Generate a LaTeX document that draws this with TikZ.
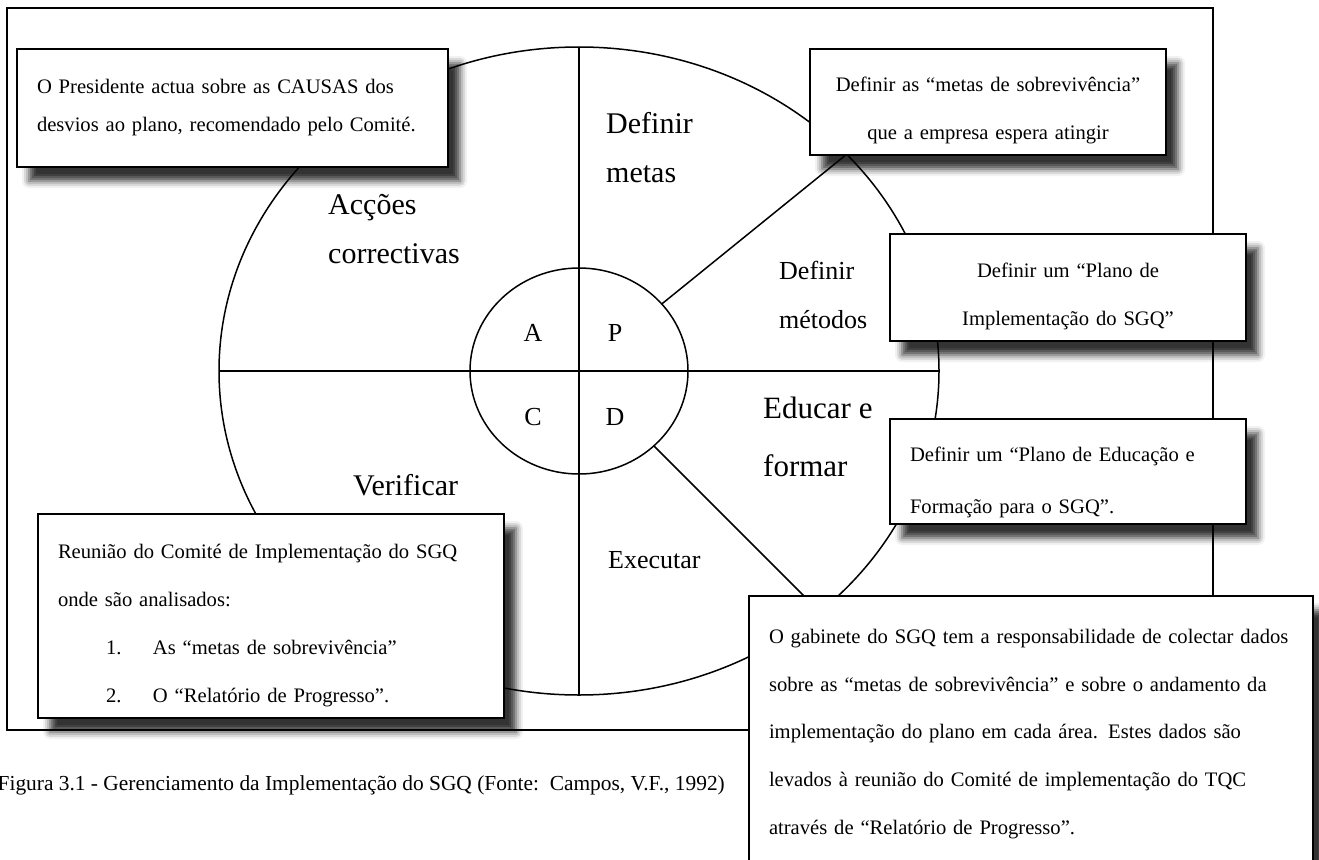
\documentclass[tikz,border=0pt]{standalone}
\usepackage{fontspec}
\setmainfont{Liberation Serif}
\usetikzlibrary{shapes.geometric,shadows.blur}

\begin{document}
\begin{tikzpicture}[x=1pt,y=-1pt,
	ring/.style={draw,ellipse,line width=1.5pt,inner sep=0pt,outer sep=0pt},
	spoke/.style={line width=1.5pt},
	callout/.style={draw,line width=2pt,fill=white,anchor=north west,inner xsep=20pt,inner ysep=0pt,
		font=\fontsize{20.6}{48}\selectfont,
		blur shadow={shadow xshift=12pt,shadow yshift=-14pt,shadow blur radius=7pt,shadow opacity=80}},
	droptext/.style={execute at begin node={\rule{0pt}{#1}}},
	stage/.style={anchor=west,align=left,inner sep=0pt,font=\fontsize{30}{49}\selectfont},
	quad/.style={inner sep=0pt,font=\fontsize{26}{26}\selectfont}]
	\useasboundingbox (0,0) rectangle (1319,859);
	\clip (0,0) rectangle (1319,859);
	\draw[line width=1.6pt] (7,8) rectangle (1213,730);
	\node[ring,minimum width=720pt,minimum height=648pt] (wheel) at (579,371) {};
	\node[ring,minimum width=218pt,minimum height=206pt] (hub) at (579,371) {};
	\draw[spoke] (wheel.west) -- (wheel.east);
	\draw[spoke] (wheel.north) -- (wheel.south);
	\draw[spoke] (hub.39) -- (wheel.39);
	\draw[spoke] (hub.-45) -- (wheel.-45);
	\node[quad] (qa) at (533,333) {A};
	\node[quad] (qp) at (615,333) {P};
	\node[quad] (qc) at (533,417) {C};
	\node[quad] (qd) at (615,417) {D};
	\node[stage] (lblmetas) at (606,148) {Definir\\metas};
	\node[stage] (lblaccoes) at (328,229) {Acções\\correctivas};
	\node[stage,font=\fontsize{26}{49}\selectfont] (lblmetodos) at (779,295) {Definir\\métodos};
	\node[stage,font=\fontsize{31}{58}\selectfont] (lbleducar) at (763,437) {Educar e\\formar};
	\node[stage] (lblverificar) at (353,485) {Verificar};
	\node[stage,font=\fontsize{26}{26}\selectfont] (lblexecutar) at (608,560) {Executar};
	% caixas de texto
	\node[callout,minimum width=431pt,minimum height=118pt,text width=391pt,align=left,
		font=\fontsize{20.6}{38}\selectfont] (presidente) at (16,48)
		{O Presidente actua sobre as CAUSAS dos\\desvios ao plano, recomendado pelo Comité.};
	\node[callout,droptext=31pt,minimum width=356pt,minimum height=106pt,text width=316pt,align=center] (metas) at (809,48)
		{Definir as “metas de sobrevivência”\\que a empresa espera atingir};
	\node[callout,droptext=33pt,minimum width=356pt,minimum height=107pt,text width=316pt,align=center] (plano) at (889,233)
		{Definir um “Plano de\\Implementação do SGQ”};
	\node[callout,droptext=37pt,minimum width=356pt,minimum height=105pt,text width=316pt,align=left,
		font=\fontsize{20.6}{52}\selectfont] (educacao) at (889,418)
		{Definir um “Plano de Educação e\\Formação para o SGQ”.};
	\node[callout,droptext=33pt,minimum width=466pt,minimum height=204pt,text width=426pt,align=left] (reuniao) at (37,513)
		{Reunião do Comité de Implementação do SGQ\\onde são analisados:\\
		\hspace*{48pt}\makebox[47pt][l]{1.}As “metas de sobrevivência”\\
		\hspace*{48pt}\makebox[47pt][l]{2.}O “Relatório de Progresso”.};
	\node[callout,droptext=20pt,minimum width=564pt,minimum height=270pt,text width=524pt,align=left,
		font=\fontsize{20.6}{47.7}\selectfont] (gabinete) at (748,595)
		{O gabinete do SGQ tem a responsabilidade de colectar dados\\
		sobre as “metas de sobrevivência” e sobre o andamento da\\
		implementação do plano em cada área. Estes dados são\\
		levados à reunião do Comité de implementação do TQC\\
		através de “Relatório de Progresso”.};
	\node[anchor=east,inner sep=0pt,font=\fontsize{21.4}{21}\selectfont] (caption) at (725,785)
		{Figura 3.1 - Gerenciamento da Implementação do SGQ (Fonte:\ \ Campos, V.F., 1992)};
\end{tikzpicture}
\end{document}
